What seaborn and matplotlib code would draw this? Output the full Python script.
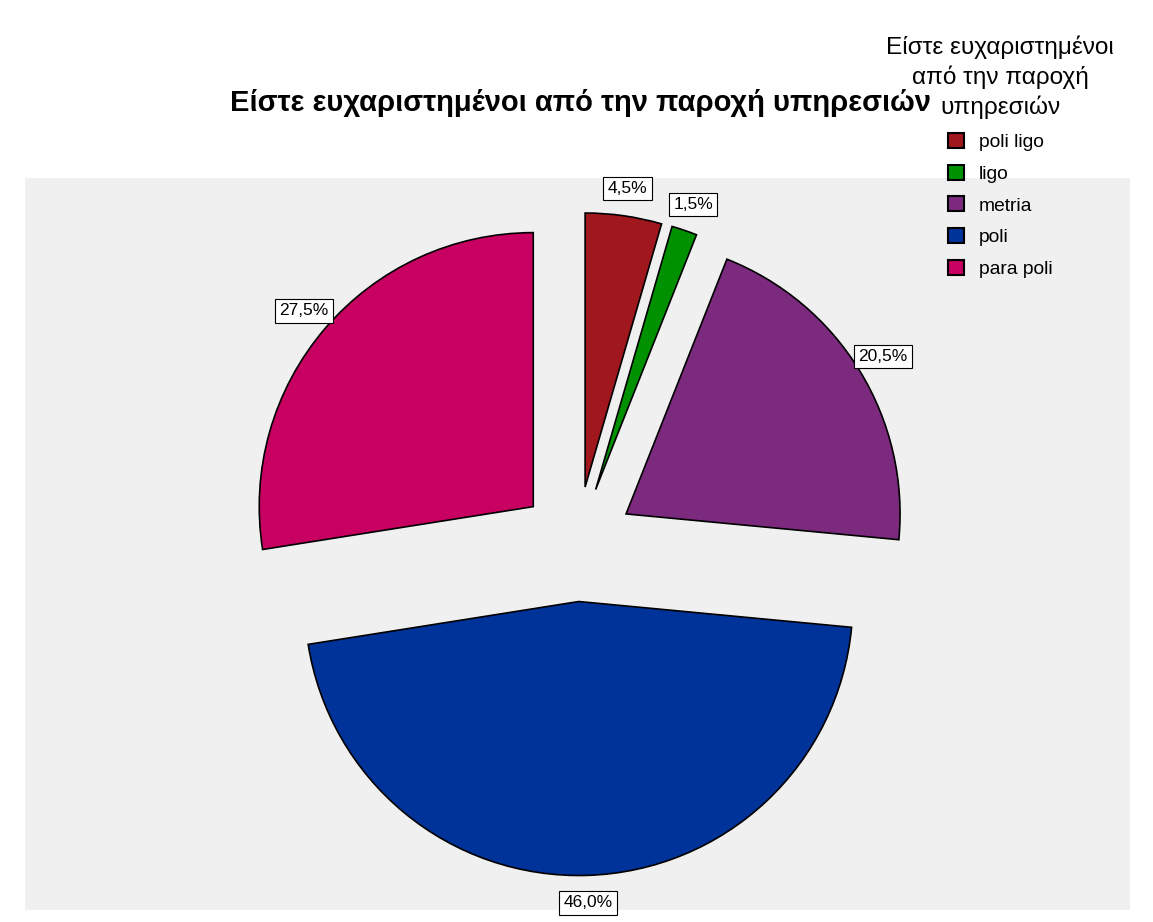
import matplotlib
matplotlib.use("Agg")
import matplotlib.pyplot as plt
import seaborn as sns
from matplotlib.patches import Patch

categories = ["poli ligo", "ligo", "metria", "poli", "para poli"]
percentages = [4.5, 1.5, 20.5, 46.0, 27.5]
colors = ["#A0171E", "#009100", "#7B2A7E", "#003399", "#C70062"]
title = "Είστε ευχαριστημένοι από την παροχή υπηρεσιών"
legend_title = "Είστε ευχαριστημένοι\nαπό την παροχή\nυπηρεσιών"

sns.set_theme(style="white")
plt.rcParams["font.family"] = ["Liberation Sans", "DejaVu Sans"]
plt.rcParams["text.color"] = "black"
plt.rcParams["legend.labelcolor"] = "black"

W, H = 1153, 922
fig = plt.figure(figsize=(W / 100, H / 100), dpi=100)
fig.patch.set_facecolor("white")

px0, px1, py0, py1 = 25, 1130, 178, 910
ax = fig.add_axes([px0 / W, 1 - py1 / H, (px1 - px0) / W, (py1 - py0) / H])
ax.set_facecolor("#F0F0F0")

R = 274
cx, cy = 577, H - 544
explode = [0.21 * R] * len(percentages)

wedges, texts, autotexts = ax.pie(
    percentages, colors=colors, startangle=90, counterclock=False,
    explode=explode, radius=R, center=(cx, cy), frame=True,
    autopct=lambda p: f"{p:.1f}%".replace(".", ","), pctdistance=1.1,
    wedgeprops=dict(edgecolor="black", linewidth=1.2),
    textprops=dict(fontsize=12.5, color="black"),
)
for t in autotexts:
    t.set_bbox(dict(boxstyle="square,pad=0.25", fc="white", ec="black", lw=0.8))

ax.set_xlim(px0, px1)
ax.set_ylim(H - py1, H - py0)
ax.set_xticks([])
ax.set_yticks([])
for s in ax.spines.values():
    s.set_visible(False)

fig.text(580 / W, 1 - 103 / H, title, ha="center", va="center",
         fontsize=21, fontweight="bold", color="black")

handles = [Patch(facecolor=c, edgecolor="black", linewidth=1.5) for c in colors]
leg = fig.legend(handles, categories, loc="upper center",
                 bbox_to_anchor=(1000 / W, 1 - 22 / H), frameon=False,
                 title=legend_title, fontsize=13.9, title_fontsize=17.6,
                 handlelength=0.82, handleheight=0.82, handletextpad=0.77,
                 labelspacing=0.7, borderpad=0.2)
leg.get_title().set_linespacing(1.36)
leg.get_title().set_multialignment("center")
leg.get_title().set_color("black")

fig.savefig("out.png", dpi=100)
